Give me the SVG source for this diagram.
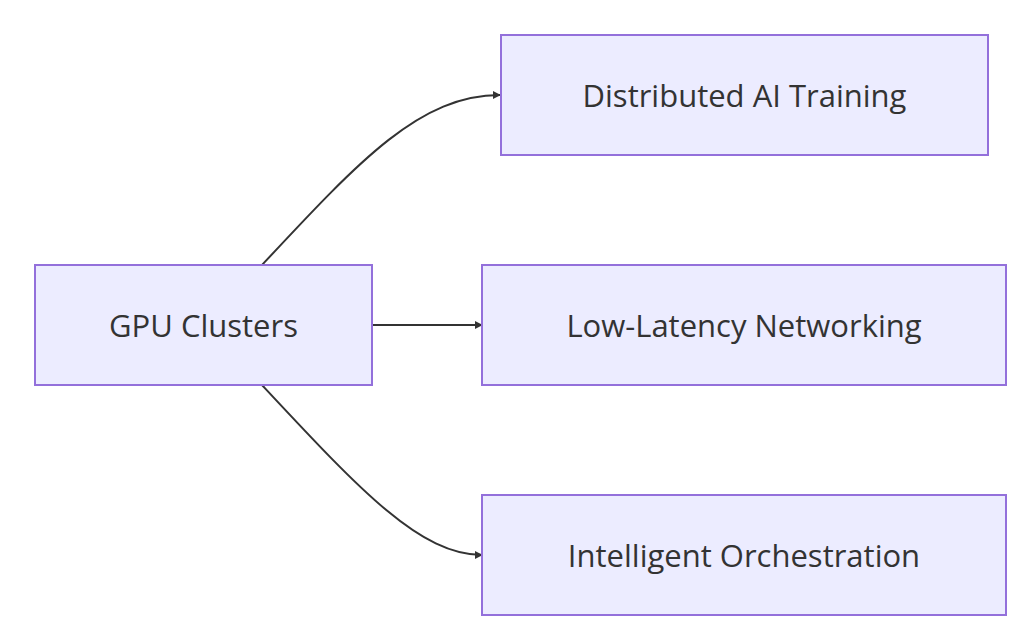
<svg xmlns="http://www.w3.org/2000/svg" width="1024" height="633" viewBox="0 0 1024 633">
<style>
.n rect{fill:#ECECFF;stroke:#9370DB;stroke-width:2}
.n text{font-family:"Open Sans","DejaVu Sans",sans-serif;font-size:31px;fill:#333;text-anchor:middle;dominant-baseline:central}
.e path{fill:none;stroke:#333;stroke-width:2;marker-end:url(#a)}
</style>
<defs><marker id="a" viewBox="0 0 10 10" refX="9" refY="5" markerWidth="8" markerHeight="8" markerUnits="userSpaceOnUse" orient="auto"><path d="M0,0L10,5L0,10z" fill="#333"/></marker></defs>
<rect width="1024" height="633" fill="#fff"/>
<g class="e">
<path d="M262,265 C360,160 420,95 500,95" style="marker-end:url(#a)"/>
<path d="M372,325 L482,325"/>
<path d="M262,385 C360,490 420,555 482,555"/>
</g>
<g class="n" id="gpu"><rect x="35" y="265" width="337" height="120"/><text x="203.5" y="325">GPU Clusters</text></g>
<g class="n" id="dist"><rect x="501" y="35" width="487" height="120"/><text x="744.5" y="95">Distributed AI Training</text></g>
<g class="n" id="net"><rect x="482" y="265" width="524" height="120"/><text x="744" y="325">Low-Latency Networking</text></g>
<g class="n" id="orch"><rect x="482" y="495" width="524" height="120"/><text x="744" y="555">Intelligent Orchestration</text></g>
</svg>
